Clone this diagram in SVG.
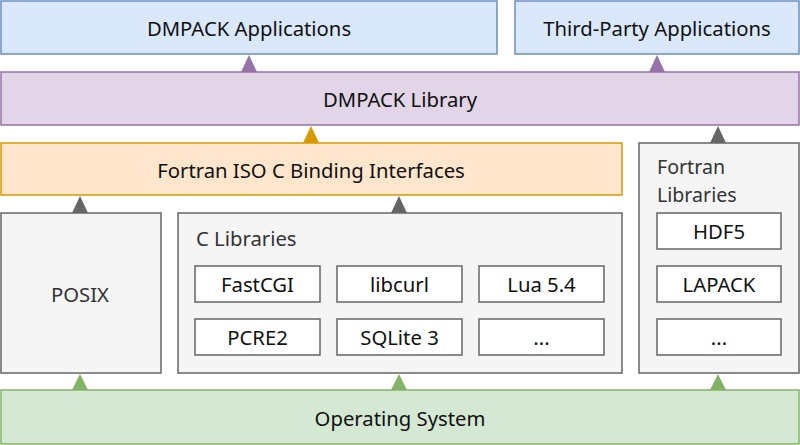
<svg xmlns="http://www.w3.org/2000/svg" width="800" height="445" viewBox="0 0 800 445">
<style>
text{font-family:"Noto Sans","Open Sans","DejaVu Sans",sans-serif;font-size:20.3px;fill:#111;}
.c{text-anchor:middle;}
.g{fill:#333;}
.fl{font-size:19.6px;}
.blue{fill:#dae8fc;stroke:#6c8ebf;stroke-width:1.5;}
.purple{fill:#e1d5e7;stroke:#9673a6;stroke-width:1.5;}
.orange{fill:#ffe6cc;stroke:#d79b00;stroke-width:1.5;}
.gray{fill:#f5f5f5;stroke:#666;stroke-width:1.5;}
.green{fill:#d5e8d4;stroke:#82b366;stroke-width:1.5;}
.white{fill:#fff;stroke:#666;stroke-width:1.5;}
</style>
<rect width="800" height="445" fill="#fff"/>
<g id="dmpack-apps"><rect class="blue" x="1" y="1" width="496" height="53"/><text class="c" x="249" y="36">DMPACK Applications</text></g>
<g id="third-party-apps"><rect class="blue" x="515" y="1" width="284" height="53"/><text class="c" x="657" y="36">Third-Party Applications</text></g>
<g id="dmpack-library"><rect class="purple" x="1" y="72" width="798" height="53"/><text class="c" x="400" y="107">DMPACK Library</text></g>
<g id="fortran-iso-c"><rect class="orange" x="1" y="143" width="621" height="52"/><text class="c" x="311" y="178">Fortran ISO C Binding Interfaces</text></g>
<g id="fortran-libraries"><rect class="gray" x="639" y="143" width="160" height="230"/><text class="g fl" x="657" y="174">Fortran</text><text class="g fl" x="657" y="201.5">Libraries</text>
<g id="hdf5"><rect class="white" x="657" y="213" width="124" height="36"/><text class="c" x="719" y="239">HDF5</text></g>
<g id="lapack"><rect class="white" x="657" y="266" width="124" height="36"/><text class="c" x="719" y="292">LAPACK</text></g>
<g id="fortran-more"><rect class="white" x="657" y="319" width="124" height="36"/><text class="c" x="719" y="345">...</text></g>
</g>
<g id="posix"><rect class="gray" x="1" y="213" width="160" height="160"/><text class="c g" x="80" y="302">POSIX</text></g>
<g id="c-libraries"><rect class="gray" x="178" y="213" width="444" height="160"/><text class="g" x="196" y="246">C Libraries</text>
<g id="fastcgi"><rect class="white" x="195" y="266" width="125" height="36"/><text class="c" x="257.5" y="292">FastCGI</text></g>
<g id="libcurl"><rect class="white" x="337" y="266" width="125" height="36"/><text class="c" x="399.5" y="292">libcurl</text></g>
<g id="lua"><rect class="white" x="479" y="266" width="125" height="36"/><text class="c" x="541.5" y="292">Lua 5.4</text></g>
<g id="pcre2"><rect class="white" x="195" y="319" width="125" height="36"/><text class="c" x="257.5" y="345">PCRE2</text></g>
<g id="sqlite"><rect class="white" x="337" y="319" width="125" height="36"/><text class="c" x="399.5" y="345">SQLite 3</text></g>
<g id="c-more"><rect class="white" x="479" y="319" width="125" height="36"/><text class="c" x="541.5" y="345">...</text></g>
</g>
<g id="operating-system"><rect class="green" x="1" y="390" width="798" height="54"/><text class="c" x="400" y="426">Operating System</text></g>
<g id="connectors">
<polygon fill="#9673a6" points="249,55 241,72 257,72"/>
<polygon fill="#9673a6" points="657,55 649,72 665,72"/>
<polygon fill="#d79b00" points="311,126 303,143 319,143"/>
<polygon fill="#666" points="718,126 710,143 726,143"/>
<polygon fill="#666" points="80,196 72,213 88,213"/>
<polygon fill="#666" points="399,196 391,213 407,213"/>
<polygon fill="#82b366" points="80,374 72,390 88,390"/>
<polygon fill="#82b366" points="399,374 391,390 407,390"/>
<polygon fill="#82b366" points="718,374 710,390 726,390"/>
</g>
</svg>
